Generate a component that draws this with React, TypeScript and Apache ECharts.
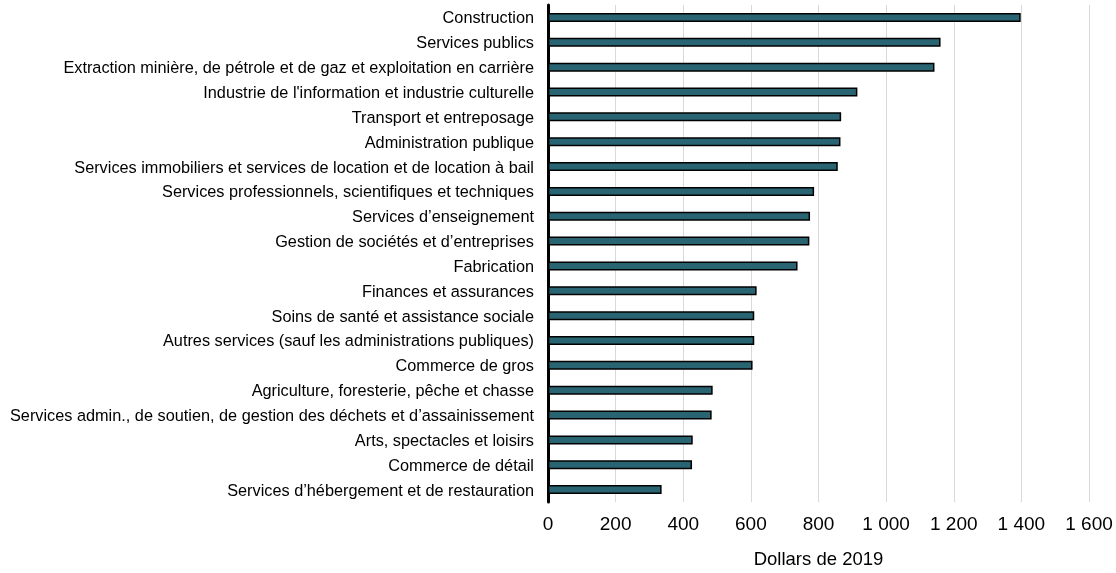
import React, { useEffect, useRef } from "react";
import * as echarts from "echarts";

const categories = [
  "Construction",
  "Services publics",
  "Extraction minière, de pétrole et de gaz et exploitation en carrière",
  "Industrie de l'information et industrie culturelle",
  "Transport et entreposage",
  "Administration publique",
  "Services immobiliers et services de location et de location à bail",
  "Services professionnels, scientifiques et techniques",
  "Services d’enseignement",
  "Gestion de sociétés et d’entreprises",
  "Fabrication",
  "Finances et assurances",
  "Soins de santé et assistance sociale",
  "Autres services (sauf les administrations publiques)",
  "Commerce de gros",
  "Agriculture, foresterie, pêche et chasse",
  "Services admin., de soutien, de gestion des déchets et d’assainissement",
  "Arts, spectacles et loisirs",
  "Commerce de détail",
  "Services d’hébergement et de restauration",
];

const values = [
  1398, 1161, 1143, 915, 867, 865, 857, 787, 775, 773, 738, 617, 610, 610, 605,
  487, 484, 428, 426, 336,
];

const xTickValues = [0, 200, 400, 600, 800, 1000, 1200, 1400, 1600];
const axisTitle = "Dollars de 2019";

export default function App() {
  const ref = useRef<HTMLDivElement>(null);
  useEffect(() => {
    if (!ref.current) return;
    const chart = echarts.init(ref.current, null, { renderer: "svg" });
    const font = "Arial, 'Liberation Sans', sans-serif";
    chart.setOption({
      animation: false,
      grid: { left: 548, right: 27, top: 5, bottom: 69, containLabel: false },
      xAxis: {
        type: "value",
        min: xTickValues[0],
        max: xTickValues[xTickValues.length - 1],
        interval: 200,
        axisLine: { show: false },
        axisTick: { show: false },
        splitLine: { show: true, lineStyle: { color: "#d9d9d9", width: 1 } },
        axisLabel: {
          color: "#000",
          fontSize: 19,
          fontFamily: font,
          margin: 12,
          formatter: (v: number) =>
            String(v).replace(/\B(?=(\d{3})+(?!\d))/g, " "),
        },
        name: axisTitle,
        nameLocation: "middle",
        nameGap: 47,
        nameTextStyle: { color: "#000", fontSize: 18.5, fontFamily: font },
      },
      yAxis: {
        type: "category",
        data: categories,
        inverse: true,
        axisLine: { show: true, lineStyle: { color: "#000", width: 3 } },
        axisTick: { show: false },
        splitLine: { show: false },
        axisLabel: {
          color: "#000",
          fontSize: 16.3,
          fontFamily: font,
          margin: 14,
        },
      },
      series: [
        {
          type: "bar",
          data: values,
          barWidth: 9,
          itemStyle: {
            color: "#286472",
            borderColor: "#000",
            borderWidth: 1.5,
          },
        },
      ],
    });
    return () => chart.dispose();
  }, []);
  return (
    <div
      ref={ref}
      style={{ position: "fixed", left: 0, top: 0, width: 1116, height: 573 }}
    />
  );
}
